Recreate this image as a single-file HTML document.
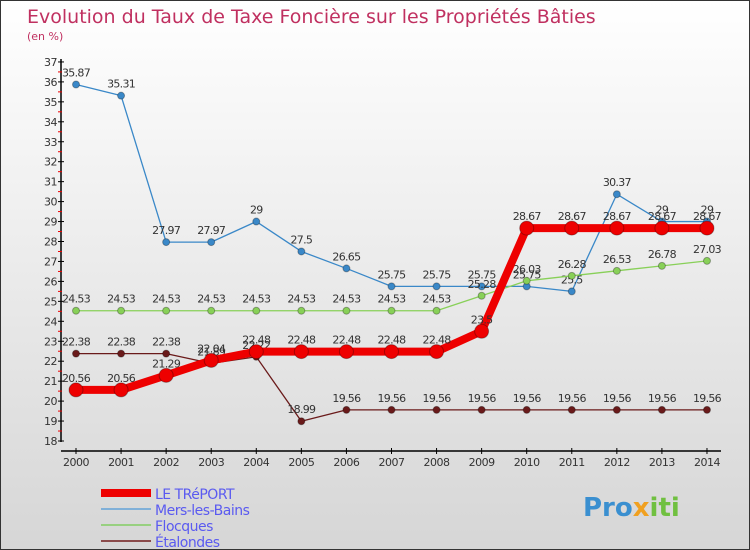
<!DOCTYPE html>
<html><head><meta charset="utf-8"><style>
body{margin:0}
#c{width:748px;height:548px;border:1px solid #333;background:linear-gradient(#fff,#d6d6d6);position:relative;overflow:hidden;font-family:"DejaVu Sans","Liberation Sans",sans-serif}
svg text{font-family:"DejaVu Sans","Liberation Sans",sans-serif}
</style></head><body>
<div id="c">
<svg id="s" width="748" height="548">
<text x="26" y="22" font-size="19" fill="#c03060">Evolution du Taux de Taxe Foncière sur les Propriétés Bâties</text>
<text x="26" y="39" font-size="11" fill="#c03060">(en %)</text>
<text x="582" y="515" font-size="26" font-weight="bold" fill="#3a8fd0">Pro<tspan fill="#f0a020">x</tspan><tspan fill="#70c040">iti</tspan></text>
</svg></div>
<script>
const years=[2000,2001,2002,2003,2004,2005,2006,2007,2008,2009,2010,2011,2012,2013,2014];
const treport=[20.56,20.56,21.29,22.04,22.48,22.48,22.48,22.48,22.48,23.5,28.67,28.67,28.67,28.67,28.67];
const mers=[35.87,35.31,27.97,27.97,29,27.5,26.65,25.75,25.75,25.75,25.75,25.5,30.37,29,29];
const flocques=[24.53,24.53,24.53,24.53,24.53,24.53,24.53,24.53,24.53,25.28,26.03,26.28,26.53,26.78,27.03];
const etalondes=[22.38,22.38,22.38,21.89,22.22,18.99,19.56,19.56,19.56,19.56,19.56,19.56,19.56,19.56,19.56];
const yTicks=[18,19,20,21,22,23,24,25,26,27,28,29,30,31,32,33,34,35,36,37];
const s=document.getElementById('s');const NS='http://www.w3.org/2000/svg';
function X(i){return 75+i*45.07}
function Y(v){return 440-(v-18)*19.95}
function el(t,a,p){const e=document.createElementNS(NS,t);for(const k in a)e.setAttribute(k,a[k]);(p||s).appendChild(e);return e}
let ax=el('line',{x1:60,y1:58,x2:60,y2:441,stroke:'#000','stroke-width':1.5});

let bx=el('line',{x1:60,y1:450,x2:720,y2:450,stroke:'#000','stroke-width':1.5});

yTicks.forEach(v=>{el('line',{x1:57,x2:63,y1:Y(v),y2:Y(v),stroke:'#000'});
if(v<37)el('line',{x1:57,x2:61,y1:Y(v+0.5),y2:Y(v+0.5),stroke:'#e00'});
const t=el('text',{x:56,y:Y(v)+4,'font-size':11,'text-anchor':'end',fill:'#333','letter-spacing':'-0.5'});t.textContent=v;
});
years.forEach((yr,i)=>{el('line',{x1:X(i),x2:X(i),y1:447,y2:453,stroke:'#000'});
const t=el('text',{x:X(i),y:465,'font-size':11,'text-anchor':'middle',fill:'#333','letter-spacing':'-0.5'});t.textContent=yr;
});
function series(d,col,w,r,name){const g=el('g',{});
el('polyline',{points:d.map((v,i)=>X(i)+','+Y(v)).join(' '),fill:'none',stroke:col,'stroke-width':w,'stroke-linejoin':'round'},g);
d.forEach((v,i)=>{const c=el('circle',{cx:X(i),cy:Y(v),r:r,fill:col,stroke:'rgba(0,0,0,0.3)'},g);

const t=el('text',{x:X(i),y:Y(v)-8,'font-size':11,'text-anchor':'middle',fill:'#333','letter-spacing':'-0.7'},g);t.textContent=v;});}
series(mers,'#3a88c8',1.3,3.5,'mers-les-bains-series');
series(flocques,'#88d058',1.3,3.5,'flocques-series');
series(etalondes,'#6a1a1a',1.3,3.5,'etalondes-series');
series(treport,'#ee0000',8,7,'le-treport-series');
const leg=[['LE TRéPORT','#ee0000',8],['Mers-les-Bains','#80b0d8',2],['Flocques','#98d080',2],['Étalondes','#8a4a4a',2]];
leg.forEach((l,i)=>{const y=492+i*16;const g=el('g',{});
el('line',{x1:100,x2:150,y1:y,y2:y,stroke:l[1],'stroke-width':l[2]},g);
const t=el('text',{x:154,y:y+6,'font-size':14,fill:'#5a5af0','letter-spacing':'-0.5'},g);t.textContent=l[0];});
</script></body></html>
